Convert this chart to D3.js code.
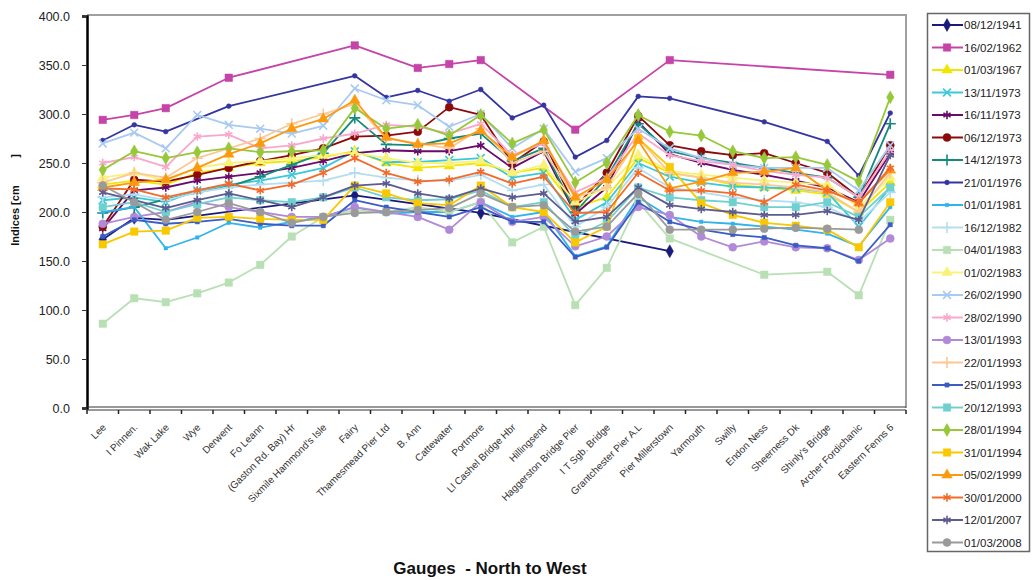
<!DOCTYPE html>
<html>
<head>
<meta charset="utf-8">
<script src="https://cdn.jsdelivr.net/npm/d3@7"></script>
<style>
  body { margin: 0; background: #fff; }
  svg { font-family: Arial, "Liberation Sans", sans-serif; }
</style>
</head>
<body>
<div id="chart"></div>
<script>
// gauges, listed north to west
const gauges = [
  'Lee', 'I Pinnen.', 'Wak Lake', 'Wye', 'Derwent', 'Fo Leann',
  '(Gaston Rd. Bay) Hr', 'Sixmile Hammond\'s Isle', 'Fairy', 'Thamesmead Pier Ltd',
  'B. Ann', 'Cattewater', 'Portmore', 'Ll Cashel Bridge Hbr', 'Hillingsend',
  'Haggerston Bridge Pier', 'I T Sgb. Bridge', 'Grantchester Pier A.L',
  'Pier Millerstown', 'Yarmouth', 'Swilly', 'Endon Ness', 'Sheerness Dk',
  'Shinly\'s Bridge', 'Archer Fordichanic', 'Eastern Fenns 6'
]

const dates = [
  '08/12/1941', '16/02/1962', '01/03/1967', '13/11/1973', '16/11/1973', '06/12/1973',
  '14/12/1973', '21/01/1976', '01/01/1981', '16/12/1982', '04/01/1983', '01/02/1983',
  '26/02/1990', '28/02/1990', '13/01/1993', '22/01/1993', '25/01/1993', '20/12/1993',
  '28/01/1994', '31/01/1994', '05/02/1999', '30/01/2000', '12/01/2007', '01/03/2008'
]

const _ = null
const v1941 = [172, 194, 192, _, _, _, _, _, 217, _, _, _, 199, _, _, _, _, _, 160, _, _, _, _, _, _, _]
const v1962 = [294, 299, 306, _, 337, _, _, _, 370, _, 347, 351, 355, _, _, 284, _, _, 355, _, _, _, _, _, _, 340]
const v1967 = [228, 232, 228, 240, 245, 250, 252, 256, 262, 250, 245, 247, 250, 240, 245, 205, 215, 255, 240, 235, 228, 225, 222, 218, 200, 230]
const v1973a = [212, 215, 210, 222, 228, 232, 238, 245, 262, 251, 251, 253, 255, 235, 240, 192, 210, 250, 236, 230, 226, 225, 224, 220, 185, 225]
const v1973b = [183, 222, 225, 232, 236, 240, 245, 252, 260, 263, 262, 262, 268, 245, 262, 198, 225, 292, 259, 250, 243, 238, 232, 225, 210, 260]
const v1973c = [185, 233, 231, 238, 245, 252, 258, 265, 277, 278, 282, 307, 299, 250, 272, 205, 240, 298, 268, 262, 258, 260, 250, 240, 215, 268]
const v1973d = [199, 205, 213, 220, 226, 236, 248, 260, 296, 269, 268, 275, 280, 252, 265, 200, 235, 290, 262, 255, 250, 245, 240, 235, 215, 290]
const v1976 = [273, 289, 282, _, 308, _, _, _, 339, 317, 324, 313, 325, 296, 309, 256, 273, 318, 316, _, _, 292, _, 272, 237, 301]
const v1981 = [200, 205, 163, 174, 189, 184, 190, 195, 205, 198, 200, 200, 210, 195, 200, 155, 165, 215, 195, 190, 188, 185, 182, 178, 165, 205]
const v1982 = [215, 218, 212, 220, 225, 228, 230, 232, 240, 235, 232, 232, 238, 222, 228, 185, 205, 245, 225, 220, 215, 212, 210, 205, 190, 220]
const v1983a = [86, 112, 108, 117, 128, 146, 175, 195, 202, 200, 205, 200, 210, 169, 185, 105, 143, 210, 173, _, _, 136, _, 139, 115, 192]
const v1983b = [235, 240, 232, 245, 250, 252, 255, 258, 260, 255, 250, 250, 252, 240, 248, 210, 225, 258, 242, 238, 235, 232, 230, 228, 205, 235]
const v1990a = [270, 281, 265, 299, 289, 285, 280, 288, 326, 314, 309, 287, 300, 265, 285, 241, 255, 285, 265, 255, 248, 245, 245, 245, 222, 268]
const v1990b = [250, 256, 246, 277, 279, 265, 268, 275, 280, 289, 287, 280, 290, 258, 270, 220, 235, 280, 258, 252, 248, 242, 238, 235, 215, 262]
const v1993a = [188, 195, 200, 210, 205, 200, 195, 195, 205, 200, 195, 182, 210, 190, 195, 165, 175, 205, 197, 175, 164, 170, 164, 163, 151, 173]
const v1993b = [230, 240, 235, 255, 265, 275, 290, 300, 310, 275, 270, 265, 285, 250, 262, 215, 225, 275, 240, 235, 230, 228, 225, 220, 200, 240]
const v1993c = [175, 192, 188, 190, 193, 188, 186, 186, 212, 205, 200, 195, 205, 190, 190, 154, 164, 210, 190, 182, 177, 174, 166, 163, 150, 187]
const v1993d = [205, 210, 200, 208, 215, 212, 210, 215, 225, 215, 212, 213, 222, 205, 210, 175, 190, 225, 215, 212, 210, 205, 205, 210, 195, 225]
const v1994a = [243, 262, 255, 261, 265, 261, 262, 263, 306, 285, 289, 278, 299, 270, 284, 230, 250, 299, 282, 278, 262, 255, 256, 248, 231, 317]
const v1994b = [167, 180, 181, 194, 195, 193, 192, 192, 227, 219, 209, 207, 227, 205, 200, 169, 185, 275, 246, 209, 197, 189, 186, 182, 164, 210]
const v1999 = [225, 230, 233, 245, 259, 270, 285, 295, 314, 276, 269, 270, 283, 256, 273, 215, 233, 273, 224, 231, 240, 241, 245, 222, 209, 243]
const v2000 = [224, 223, 215, 222, 229, 222, 228, 240, 255, 240, 231, 233, 241, 229, 236, 199, 200, 240, 222, 222, 219, 210, 228, 222, 209, 245]
const v2007 = [220, 212, 204, 212, 219, 212, 205, 215, 227, 229, 219, 214, 224, 215, 219, 190, 195, 225, 207, 203, 200, 197, 197, 201, 192, 258]
const v2008 = [227, 210, 192, 200, 209, 200, 189, 195, 199, 200, 202, 204, 219, 205, 207, 180, 185, 219, 182, 182, 182, 183, 184, 183, 182, _]

const values = [
  v1941, v1962, v1967, v1973a, v1973b, v1973c, v1973d, v1976, v1981, v1982, v1983a, v1983b,
  v1990a, v1990b, v1993a, v1993b, v1993c, v1993d, v1994a, v1994b, v1999, v2000, v2007, v2008
]

const yTicks = [0, 50, 100, 150, 200, 250, 300, 350, 400]

// styling per series (same order as dates)
const colors = [
  '#1a1a7a', '#c444a8', '#f2e600', '#3cc8d8', '#6a0a6a', '#8c0a0a',
  '#138a7c', '#3535a0', '#30b4ea', '#b4def0', '#b8e0b4', '#f8f27a',
  '#a8caf0', '#f8a8cc', '#b08ad8', '#fcc898', '#3a5cc4', '#70d0d0',
  '#96c83a', '#f8c800', '#fb9a10', '#f46a2a', '#5c5c90', '#9a9a9a'
]
const shapes = [
  'diamond', 'square', 'triangle', 'x', 'asterisk', 'circle',
  'plus', 'smallcircle', 'dash', 'plus', 'square', 'triangle',
  'x', 'asterisk', 'circle', 'plus', 'smallsquare', 'square',
  'diamond', 'square', 'triangle', 'asterisk', 'asterisk', 'circle'
]

const width = 1034
const height = 580
const plot = { left: 87, right: 906, top: 15, bottom: 408 }

const svg = d3.select('#chart')
  .append('svg')
  .attr('width', width)
  .attr('height', height)

const x = d3.scaleBand().domain(gauges).range([plot.left, plot.right])
const y = d3.scaleLinear().domain([0, 400]).range([plot.bottom, plot.top + 1])

// plot frame (top and right in grey)
svg.append('path')
  .attr('d', `M${plot.left},${plot.top}H${plot.right}V${plot.bottom}`)
  .attr('fill', 'none')
  .attr('stroke', '#a0a0a0')
  .attr('stroke-width', 2)

function symbolFor(shape) {
  switch (shape) {
    case 'diamond': return { type: d3.symbolDiamond, size: 48, fill: true }
    case 'square': return { type: d3.symbolSquare, size: 56, fill: true }
    case 'smallsquare': return { type: d3.symbolSquare, size: 18, fill: true }
    case 'triangle': return { type: d3.symbolTriangle, size: 48, fill: true }
    case 'circle': return { type: d3.symbolCircle, size: 50, fill: true }
    case 'smallcircle': return { type: d3.symbolCircle, size: 18, fill: true }
    case 'x': return { type: d3.symbolX, size: 42, fill: false }
    case 'asterisk': return { type: d3.symbolAsterisk, size: 48, fill: false }
    case 'plus': return { type: d3.symbolPlus, size: 42, fill: false }
    case 'dash': return { type: d3.symbolSquare, size: 12, fill: true }
  }
}

const line = d3.line()
  .x((d) => x(d.g) + x.bandwidth() / 2)
  .y((d) => y(d.v))

const series = dates.map((date, i) => ({
  date,
  color: colors[i],
  shape: shapes[i],
  points: gauges.map((g, j) => ({ g, v: values[i][j] })).filter((d) => d.v !== null)
}))

const lines = svg.append('g')
series.forEach((s) => {
  const g = lines.append('g')
  g.append('path')
    .attr('d', line(s.points))
    .attr('fill', 'none')
    .attr('stroke', s.color)
    .attr('stroke-width', 1.8)
    .attr('stroke-linejoin', 'round')
  const sym = symbolFor(s.shape)
  g.selectAll('path.mark')
    .data(s.points)
    .join('path')
    .attr('class', 'mark')
    .attr('transform', (d) => `translate(${x(d.g) + x.bandwidth() / 2},${y(d.v)})`)
    .attr('d', d3.symbol(sym.type, sym.size)())
    .attr('fill', sym.fill ? s.color : 'none')
    .attr('stroke', s.color)
    .attr('stroke-width', sym.fill ? 0.5 : 1.6)
})

// y axis
const yAxis = svg.append('g')
  .attr('transform', `translate(${plot.left},0)`)
  .call(d3.axisLeft(y).tickValues(yTicks).tickFormat(d3.format('.1f')).tickSize(5).tickPadding(12))
yAxis.select('.domain').attr('stroke', '#000').attr('stroke-width', 2.5)
yAxis.selectAll('.tick line').attr('stroke', '#333')
yAxis.selectAll('.tick text').attr('font-size', 12.5).attr('fill', '#222')

// x axis (double rule, ticks between gauges)
svg.append('line')
  .attr('x1', plot.left).attr('x2', plot.right)
  .attr('y1', plot.bottom - 1).attr('y2', plot.bottom - 1)
  .attr('stroke', '#333').attr('stroke-width', 1)
svg.append('line')
  .attr('x1', plot.left).attr('x2', plot.right)
  .attr('y1', plot.bottom + 2).attr('y2', plot.bottom + 2)
  .attr('stroke', '#333').attr('stroke-width', 1)

const bounds = gauges.map((g) => x(g) + x.bandwidth()).concat([plot.left])
svg.append('g')
  .selectAll('line')
  .data(bounds)
  .join('line')
  .attr('x1', (d) => d).attr('x2', (d) => d)
  .attr('y1', plot.bottom + 2).attr('y2', plot.bottom + 6)
  .attr('stroke', '#222').attr('stroke-width', 1.5)

svg.append('g')
  .selectAll('text')
  .data(gauges)
  .join('text')
  .attr('transform', (d) => `translate(${x(d) + x.bandwidth() / 2 + 4},${plot.bottom + 20}) rotate(-45)`)
  .attr('text-anchor', 'end')
  .attr('font-size', 10)
  .attr('fill', '#333')
  .text((d) => d)

// axis titles
svg.append('text')
  .attr('x', 490)
  .attr('y', 574)
  .attr('text-anchor', 'middle')
  .attr('font-size', 17)
  .attr('font-weight', 'bold')
  .attr('fill', '#111')
  .style('white-space', 'pre')
  .text('Gauges  - North to West')

svg.append('text')
  .attr('transform', 'translate(19,200) rotate(-90)')
  .attr('text-anchor', 'middle')
  .attr('font-size', 11)
  .attr('font-weight', 'bold')
  .attr('fill', '#111')
  .style('white-space', 'pre')
  .text('Indices [cm         ]')

// legend
const legend = svg.append('g')
legend.append('rect')
  .attr('x', 927.5).attr('y', 13.5)
  .attr('width', 102).attr('height', 538)
  .attr('fill', '#fff')
  .attr('stroke', '#666')
  .attr('stroke-width', 1.5)

const item = legend.selectAll('g.item')
  .data(series)
  .join('g')
  .attr('class', 'item')
  .attr('transform', (d, i) => `translate(0,${25 + i * 22.5})`)

item.append('line')
  .attr('x1', 932).attr('x2', 963)
  .attr('stroke', (d) => d.color)
  .attr('stroke-width', 2)
item.append('path')
  .attr('transform', 'translate(947,0)')
  .attr('d', (d) => d3.symbol(symbolFor(d.shape).type, symbolFor(d.shape).size)())
  .attr('fill', (d) => (symbolFor(d.shape).fill ? d.color : 'none'))
  .attr('stroke', (d) => d.color)
  .attr('stroke-width', (d) => (symbolFor(d.shape).fill ? 0.5 : 1.6))
item.append('text')
  .attr('x', 964)
  .attr('y', 4)
  .attr('font-size', 11.5)
  .attr('fill', '#222')
  .text((d) => d.date)
</script>
</body>
</html>
